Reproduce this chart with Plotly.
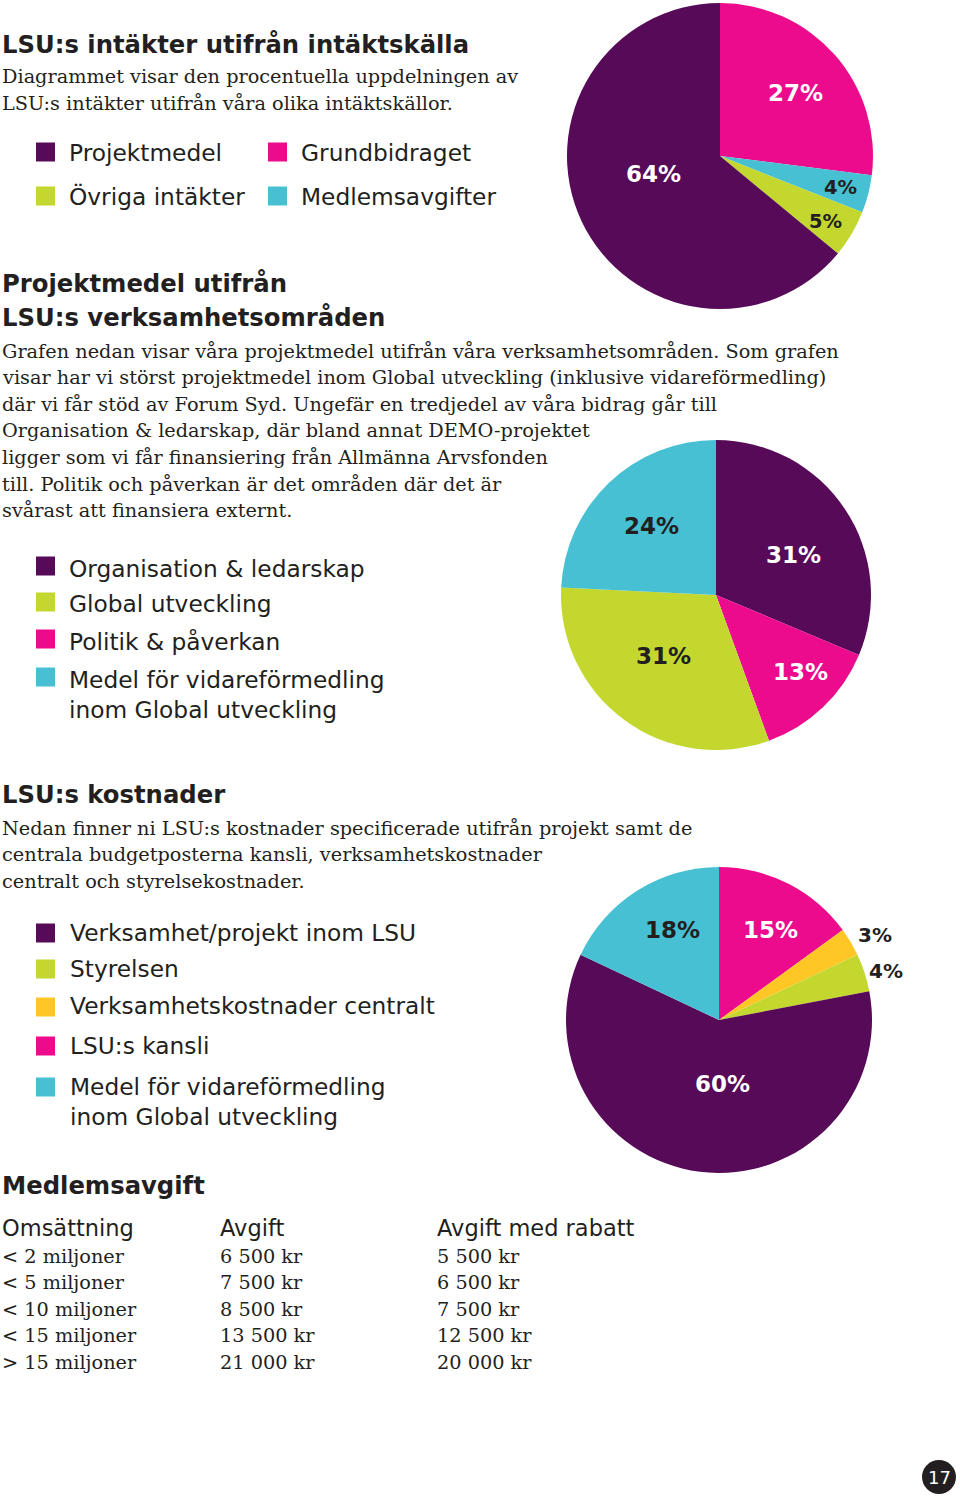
import plotly.graph_objects as go

W, H = 960, 1498

# ---------------- data ----------------
PURPLE = "#570A57"
PINK = "#EC0B8D"
GREEN = "#C3D72F"
CYAN = "#46C0D2"
ORANGE = "#FFC726"
DARK = "#231F20"

# Pie 1: income sources (clockwise from 12 o'clock)
income_cats = ["Grundbidraget", "Medlemsavgifter", "Övriga intäkter", "Projektmedel"]
income_vals = [27, 4, 5, 64]
income_cols = [PINK, CYAN, GREEN, PURPLE]
income_legend = ["Projektmedel", "Grundbidraget", "Övriga intäkter", "Medlemsavgifter"]

# Pie 2: project funds per area
proj_cats = ["Organisation & ledarskap", "Politik & påverkan", "Global utveckling",
             "Medel för vidareförmedling<br>inom Global utveckling"]
proj_vals = [31, 13, 31, 24]
proj_cols = [PURPLE, PINK, GREEN, CYAN]
proj_legend = ["Organisation & ledarskap", "Global utveckling", "Politik & påverkan",
               "Medel för vidareförmedling<br>inom Global utveckling"]

# Pie 3: costs
cost_cats = ["LSU:s kansli", "Verksamhetskostnader centralt", "Styrelsen",
             "Verksamhet/projekt inom LSU",
             "Medel för vidareförmedling<br>inom Global utveckling"]
cost_vals = [15, 3, 4, 60, 18]
cost_cols = [PINK, ORANGE, GREEN, PURPLE, CYAN]
cost_legend = ["Verksamhet/projekt inom LSU", "Styrelsen", "Verksamhetskostnader centralt",
               "LSU:s kansli", "Medel för vidareförmedling<br>inom Global utveckling"]

# Membership fee table
fee_header = ["Omsättning", "Avgift", "Avgift med rabatt"]
fee_turnover = ["< 2 miljoner", "< 5 miljoner", "< 10 miljoner", "< 15 miljoner", "> 15 miljoner"]
fee_amount = ["6 500 kr", "7 500 kr", "8 500 kr", "13 500 kr", "21 000 kr"]
fee_discount = ["5 500 kr", "6 500 kr", "7 500 kr", "12 500 kr", "20 000 kr"]

# ---------------- helpers ----------------
SANS_B = "DejaVu Sans"
SANS = "DejaVu Sans"
SERIF = "DejaVu Serif"

def px(x):
    return x / W

def py(y):
    return 1 - y / H

fig = go.Figure()
col_map = {}
for cats, cols in [(income_cats, income_cols), (proj_cats, proj_cols), (cost_cats, cost_cols)]:
    for c, k in zip(cats, cols):
        col_map[c] = k

def add_pie(cats, vals, cols, cx, cy, r):
    fig.add_trace(go.Pie(
        labels=cats, values=vals, sort=False, direction="clockwise", rotation=0,
        marker=dict(colors=cols, line=dict(width=0)),
        textinfo="none", hoverinfo="label+percent", showlegend=False,
        domain=dict(x=[px(cx - r), px(cx + r)], y=[py(cy + r), py(cy - r)]),
    ))

add_pie(income_cats, income_vals, income_cols, 720, 156, 153)
add_pie(proj_cats, proj_vals, proj_cols, 716, 595, 155)
add_pie(cost_cats, cost_vals, cost_cols, 719, 1020, 153)

ann = []
def text(x, y, s, size, family, color=DARK, weight="normal", xanchor="left"):
    ann.append(dict(x=px(x), y=py(y), xref="paper", yref="paper", text=s,
                    showarrow=False, xanchor=xanchor, yanchor="middle", align="left",
                    font=dict(size=size, family=family, color=color, weight=weight)))

shapes = []
def square(x, y, color, s=19):
    shapes.append(dict(type="rect", xref="paper", yref="paper",
                       x0=px(x), x1=px(x + s), y0=py(y + s / 2), y1=py(y - s / 2),
                       fillcolor=color, line=dict(width=0)))

TITLE = 24.3
BODY = 19.3
LEG = 23.3

# ---- Section 1 ----
text(0, 44, "LSU:s intäkter utifrån intäktskälla", TITLE, SANS_B, weight="bold")
for i, line in enumerate(["Diagrammet visar den procentuella uppdelningen av",
                          "LSU:s intäkter utifrån våra olika intäktskällor."]):
    text(0, 77 + i * 26.5, line, BODY, SERIF)
leg_pos = [(36, 152), (268, 152), (36, 196), (268, 196)]
for lab, (lx, ly) in zip(income_legend, leg_pos):
    square(lx, ly, col_map[lab])
    text(lx + 31, ly, lab, LEG, SANS)

# ---- Section 2 ----
text(0, 283, "Projektmedel utifrån", TITLE, SANS_B, weight="bold")
text(0, 317, "LSU:s verksamhetsområden", TITLE, SANS_B, weight="bold")
sec2 = ["Grafen nedan visar våra projektmedel utifrån våra verksamhetsområden. Som grafen",
        "visar har vi störst projektmedel inom Global utveckling (inklusive vidareförmedling)",
        "där vi får stöd av Forum Syd. Ungefär en tredjedel av våra bidrag går till",
        "Organisation & ledarskap, där bland annat DEMO-projektet",
        "ligger som vi får finansiering från Allmänna Arvsfonden",
        "till. Politik och påverkan är det områden där det är",
        "svårast att finansiera externt."]
for i, line in enumerate(sec2):
    text(0, 351 + i * 26.6, line, BODY, SERIF)
leg2_y = [566, 602, 639, 677]
for lab, ly in zip(proj_legend, leg2_y):
    square(36, ly, col_map[lab])
    parts = lab.split("<br>")
    for j, p in enumerate(parts):
        text(67, ly + 2 + j * 30, p, LEG, SANS)

# ---- Section 3 ----
text(0, 794, "LSU:s kostnader", TITLE, SANS_B, weight="bold")
sec3 = ["Nedan finner ni LSU:s kostnader specificerade utifrån projekt samt de",
        "centrala budgetposterna kansli, verksamhetskostnader",
        "centralt och styrelsekostnader."]
for i, line in enumerate(sec3):
    text(0, 828 + i * 26.6, line, BODY, SERIF)
leg3_y = [933, 969, 1007, 1046, 1087]
for lab, ly in zip(cost_legend, leg3_y):
    square(36, ly, col_map[lab])
    parts = lab.split("<br>")
    for j, p in enumerate(parts):
        text(68, ly - 1 + j * 30, p, LEG, SANS)

# ---- Section 4: table ----
text(0, 1185, "Medlemsavgift", TITLE, SANS_B, weight="bold")
col_x = [0, 218, 435]
for cx, h in zip(col_x, fee_header):
    text(cx, 1228, h, 22.5, SANS)
for i in range(len(fee_turnover)):
    yy = 1256 + i * 26.5
    for cx, val in zip(col_x, [fee_turnover[i], fee_amount[i], fee_discount[i]]):
        text(cx, yy, val, BODY, SERIF)

# ---- pie percentage labels ----
PCT = 23
def pct_labels(vals, positions, colors, sizes):
    for v, (lx, ly), c, s in zip(vals, positions, colors, sizes):
        text(lx, ly, f"{v}%", s, SANS_B, color=c, weight="bold", xanchor="center")

pct_labels(income_vals, [(795, 93), (840, 188), (825, 221), (653, 174)],
           ["white", DARK, DARK, "white"], [PCT, 19.5, 19.5, PCT])
pct_labels(proj_vals, [(793, 555), (800, 672), (663, 656), (651, 526)],
           ["white", "white", DARK, DARK], [PCT] * 4)
pct_labels(cost_vals, [(770, 930), (875, 935), (886, 971), (722, 1084), (672, 930)],
           ["white", DARK, DARK, "white", DARK], [PCT, 20, 20, PCT, PCT])

# ---- page number ----
shapes.append(dict(type="circle", xref="paper", yref="paper",
                   x0=px(922), x1=px(956), y0=py(1494), y1=py(1460),
                   fillcolor=DARK, line=dict(width=0)))
text(939, 1477, "17", 18, SANS, color="white", xanchor="center")

fig.update_layout(
    width=W, height=H, margin=dict(l=0, r=0, t=0, b=0),
    paper_bgcolor="white", plot_bgcolor="white",
    annotations=ann, shapes=shapes, showlegend=False,
)
fig.write_html("out.html", config={"displayModeBar": False},
               post_script="document.body.style.margin='0px';")
